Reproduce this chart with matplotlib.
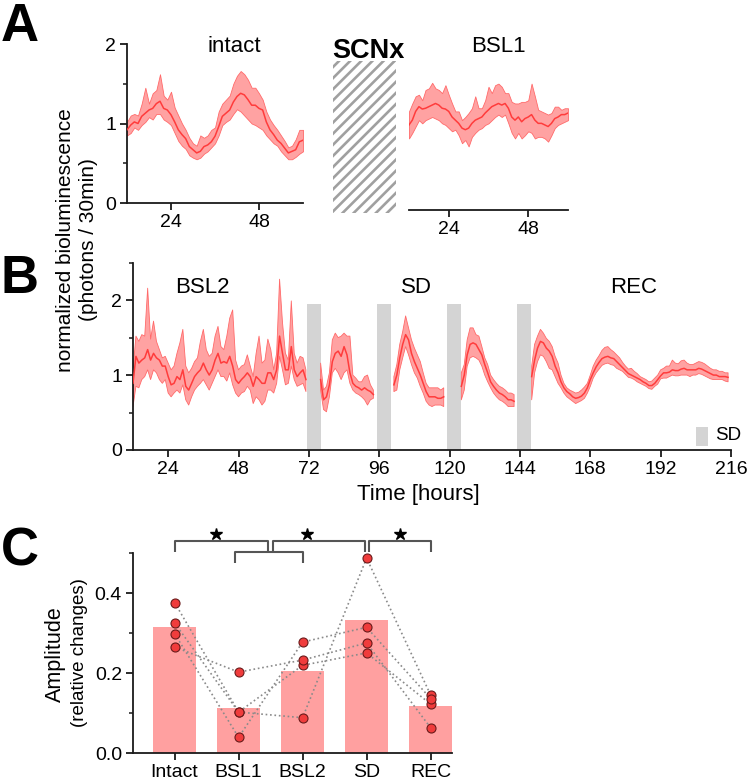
import numpy as np
import matplotlib
matplotlib.use('Agg')
import matplotlib.pyplot as plt
from matplotlib.patches import Rectangle
from matplotlib.ticker import FixedLocator

plt.rcParams['font.family'] = ['Liberation Sans', 'DejaVu Sans']
plt.rcParams['hatch.linewidth'] = 1.9

W, H = 748, 782
nan = np.nan

# ---- panel A : hourly mean / band, 12-60 h ----
hours_A = np.arange(12, 61)
intact_mean = [0.92, 0.98, 1.02, 1.00, 1.09, 1.13, 1.17, 1.19, 1.25, 1.28,
               1.19, 1.17, 1.11, 1.02, 0.92, 0.86, 0.81, 0.71, 0.67, 0.63,
               0.65, 0.71, 0.73, 0.77, 0.84, 0.96, 1.09, 1.13, 1.17, 1.27,
               1.34, 1.38, 1.36, 1.30, 1.23, 1.23, 1.19, 1.17, 1.02, 0.92,
               0.86, 0.79, 0.75, 0.69, 0.63, 0.65, 0.67, 0.77, 0.79]
intact_hi = [1.02, 1.10, 1.12, 1.10, 1.25, 1.45, 1.25, 1.38, 1.42, 1.62,
             1.35, 1.30, 1.40, 1.20, 1.10, 1.00, 0.92, 0.82, 0.75, 0.72,
             0.85, 0.82, 0.85, 0.92, 0.95, 1.15, 1.25, 1.30, 1.35, 1.50,
             1.60, 1.66, 1.62, 1.55, 1.45, 1.45, 1.38, 1.30, 1.15, 1.05,
             0.98, 0.92, 0.85, 0.78, 0.70, 0.72, 0.80, 0.92, 0.92]
intact_lo = [0.85, 0.88, 0.95, 0.92, 0.98, 1.02, 1.08, 1.05, 1.12, 1.12,
             1.05, 1.02, 0.98, 0.88, 0.78, 0.72, 0.68, 0.60, 0.57, 0.55,
             0.57, 0.62, 0.65, 0.70, 0.75, 0.85, 0.98, 1.02, 1.05, 1.12,
             1.18, 1.15, 1.10, 1.05, 1.00, 0.98, 0.95, 0.92, 0.85, 0.80,
             0.75, 0.72, 0.65, 0.60, 0.55, 0.55, 0.58, 0.62, 0.65]

bsl1_mean = [1.07, 1.13, 1.24, 1.30, 1.27, 1.28, 1.30, 1.32, 1.34, 1.32,
             1.28, 1.27, 1.24, 1.17, 1.13, 1.09, 1.03, 1.01, 1.03, 1.09,
             1.13, 1.15, 1.17, 1.22, 1.26, 1.30, 1.32, 1.34, 1.32, 1.34,
             1.28, 1.17, 1.13, 1.17, 1.11, 1.15, 1.17, 1.20, 1.13, 1.09,
             1.09, 1.07, 1.05, 1.09, 1.15, 1.17, 1.20, 1.20, 1.22]
bsl1_hi = [1.24, 1.34, 1.43, 1.45, 1.38, 1.51, 1.53, 1.60, 1.53, 1.51,
           1.47, 1.57, 1.45, 1.34, 1.24, 1.24, 1.13, 1.17, 1.22, 1.28,
           1.43, 1.28, 1.28, 1.38, 1.55, 1.47, 1.57, 1.59, 1.55, 1.47,
           1.47, 1.36, 1.34, 1.34, 1.36, 1.36, 1.38, 1.59, 1.43, 1.26,
           1.24, 1.22, 1.20, 1.22, 1.30, 1.30, 1.26, 1.28, 1.28]
bsl1_lo = [0.90, 0.97, 1.05, 1.13, 1.09, 1.13, 1.15, 1.17, 1.15, 1.13,
           1.09, 1.07, 1.03, 0.99, 1.01, 0.94, 0.84, 0.88, 0.80, 0.92,
           0.97, 1.01, 1.03, 1.07, 1.09, 1.13, 1.17, 1.20, 1.17, 1.20,
           1.09, 0.97, 0.90, 0.97, 0.90, 0.94, 0.99, 0.97, 0.90, 0.92,
           0.92, 0.90, 0.86, 0.94, 1.03, 1.07, 1.09, 1.11, 1.13]

# ---- panel B : hourly, 12-215 h, nan = no recording during SD ----
hours_B = np.arange(12, 216)
trace_mean = [
    0.89, 1.25, 1.16, 1.20, 1.23, 1.34, 1.20, 1.29, 1.23, 1.20,
    1.12, 1.12, 0.98, 0.87, 0.89, 0.98, 0.94, 1.07, 0.85, 0.80,
    0.89, 0.98, 1.03, 1.07, 1.16, 1.07, 1.00, 1.07, 1.20, 1.29,
    1.16, 1.18, 1.16, 1.25, 1.12, 0.94, 0.89, 0.94, 0.98, 1.03,
    0.98, 0.85, 0.98, 0.94, 0.89, 0.89, 1.03, 1.03, 0.94, 1.07,
    1.52, 1.29, 1.07, 1.07, 1.38, 1.07, 0.98, 1.03, 1.07, 0.94,
    nan, nan, nan, nan,
    0.94, 0.67, 0.71, 0.87, 1.18, 1.29, 1.32, 1.25, 1.38, 1.27,
    1.03, 0.89, 0.85, 0.83, 0.80, 0.83, 0.80, 0.78, 0.74,
    nan, nan, nan, nan, nan, nan,
    0.87, 1.00, 1.23, 1.41, 1.54, 1.47, 1.29, 1.18, 1.09, 1.00,
    0.89, 0.78, 0.71, 0.71, 0.71, 0.69, 0.69, 0.71,
    nan, nan, nan, nan, nan,
    0.85, 1.00, 1.27, 1.41, 1.43, 1.41, 1.34, 1.27, 1.14, 1.03,
    0.91, 0.85, 0.80, 0.76, 0.74, 0.71, 0.67, 0.67, 0.65,
    nan, nan, nan, nan, nan,
    0.98, 1.20, 1.36, 1.45, 1.43, 1.36, 1.32, 1.25, 1.12, 1.03,
    0.91, 0.83, 0.78, 0.75, 0.71, 0.69, 0.70, 0.72, 0.76, 0.83,
    0.94, 1.03, 1.11, 1.17, 1.22, 1.24, 1.25, 1.23, 1.22, 1.18,
    1.14, 1.10, 1.06, 1.02, 1.00, 0.98, 0.96, 0.94, 0.91, 0.89,
    0.86, 0.86, 0.89, 0.94, 0.99, 1.03, 1.03, 1.04, 1.07, 1.06,
    1.06, 1.08, 1.09, 1.07, 1.07, 1.07, 1.07, 1.09, 1.08, 1.06,
    1.04, 1.02, 1.00, 1.00, 0.98, 0.98, 0.98, 0.97]
trace_hi = [
    1.07, 1.52, 1.45, 1.54, 1.52, 2.16, 1.48, 1.72, 1.45, 1.34,
    1.23, 1.25, 1.16, 1.07, 1.12, 1.29, 1.43, 1.61, 1.12, 1.03,
    1.09, 1.18, 1.23, 1.45, 1.61, 1.34, 1.25, 1.29, 1.52, 1.65,
    1.38, 1.34, 1.52, 1.76, 1.87, 1.20, 1.07, 1.12, 1.14, 1.27,
    1.12, 0.98, 1.29, 1.52, 1.16, 1.20, 1.48, 1.34, 1.07, 1.29,
    2.28, 1.70, 1.29, 1.20, 1.99, 1.29, 1.16, 1.25, 1.23, 1.07,
    nan, nan, nan, nan,
    1.16, 0.80, 0.85, 1.03, 1.47, 1.56, 1.50, 1.52, 1.56, 1.52,
    1.52, 1.00, 0.96, 0.91, 0.91, 0.98, 1.00, 0.87, 0.80,
    nan, nan, nan, nan, nan, nan,
    0.98, 1.14, 1.41, 1.58, 1.79, 1.63, 1.47, 1.36, 1.27, 1.18,
    1.03, 0.89, 0.83, 0.83, 0.83, 0.83, 0.80, 0.83,
    nan, nan, nan, nan, nan,
    1.03, 1.14, 1.47, 1.63, 1.63, 1.54, 1.52, 1.38, 1.23, 1.14,
    1.00, 0.94, 0.89, 0.85, 0.83, 0.80, 0.76, 0.76, 0.74,
    nan, nan, nan, nan, nan,
    1.12, 1.41, 1.52, 1.61, 1.56, 1.49, 1.45, 1.38, 1.25, 1.16,
    1.00, 0.89, 0.83, 0.80, 0.78, 0.76, 0.77, 0.80, 0.84, 0.89,
    1.00, 1.12, 1.20, 1.26, 1.33, 1.37, 1.38, 1.34, 1.31, 1.27,
    1.23, 1.17, 1.12, 1.08, 1.09, 1.05, 1.02, 0.98, 0.96, 0.94,
    0.91, 0.92, 0.96, 1.00, 1.07, 1.09, 1.12, 1.12, 1.20, 1.16,
    1.15, 1.19, 1.20, 1.16, 1.14, 1.14, 1.16, 1.18, 1.17, 1.15,
    1.12, 1.09, 1.07, 1.07, 1.05, 1.05, 1.03, 1.03]
trace_lo = [
    0.58, 0.85, 0.83, 0.94, 0.98, 1.07, 0.94, 1.07, 1.03, 0.94,
    0.89, 0.94, 0.76, 0.71, 0.76, 0.80, 0.76, 0.87, 0.67, 0.60,
    0.71, 0.80, 0.85, 0.89, 0.94, 0.87, 0.80, 0.89, 0.98, 1.07,
    0.98, 0.98, 0.92, 1.03, 0.87, 0.76, 0.71, 0.76, 0.78, 0.85,
    0.80, 0.62, 0.71, 0.67, 0.60, 0.65, 0.80, 0.80, 0.76, 0.89,
    1.25, 1.07, 0.87, 0.89, 1.12, 0.94, 0.85, 0.87, 0.89, 0.78,
    nan, nan, nan, nan,
    0.80, 0.54, 0.51, 0.71, 1.03, 1.09, 1.03, 0.94, 1.03, 1.07,
    0.89, 0.80, 0.76, 0.74, 0.71, 0.67, 0.60, 0.67, 0.69,
    nan, nan, nan, nan, nan, nan,
    0.78, 0.80, 1.07, 1.23, 1.38, 1.27, 1.14, 1.03, 0.96, 0.85,
    0.76, 0.65, 0.60, 0.58, 0.60, 0.60, 0.60, 0.58,
    nan, nan, nan, nan, nan,
    0.67, 0.80, 1.12, 1.23, 1.25, 1.23, 1.20, 1.12, 1.00, 0.91,
    0.83, 0.76, 0.71, 0.67, 0.65, 0.62, 0.58, 0.58, 0.58,
    nan, nan, nan, nan, nan,
    0.67, 1.03, 1.18, 1.27, 1.25, 1.18, 1.09, 1.07, 0.98, 0.89,
    0.83, 0.76, 0.71, 0.68, 0.65, 0.62, 0.64, 0.66, 0.69, 0.76,
    0.85, 0.96, 1.03, 1.08, 1.13, 1.15, 1.16, 1.14, 1.13, 1.09,
    1.07, 1.05, 1.01, 0.97, 0.96, 0.94, 0.91, 0.89, 0.87, 0.85,
    0.82, 0.81, 0.85, 0.88, 0.95, 0.96, 0.96, 0.98, 1.00, 0.99,
    0.99, 1.00, 1.00, 1.00, 0.98, 1.00, 1.00, 1.02, 1.01, 0.99,
    0.97, 0.95, 0.94, 0.94, 0.94, 0.94, 0.92, 0.91]

sd_start = [71.4, 95.2, 119.1, 143.0]
sd_length = 4.8
sd_top = 1.95
phase_labels = ['BSL2', 'SD', 'REC']

# ---- panel C : amplitude per animal ----
groups = ['Intact', 'BSL1', 'BSL2', 'SD', 'REC']
amp_intact = [0.377, 0.326, 0.299, 0.266]
amp_bsl1 = [0.103, 0.103, 0.040, 0.203]
amp_bsl2 = [0.220, 0.089, 0.278, 0.233]
amp_sd = [0.251, 0.488, 0.315, 0.276]
amp_rec = [0.123, 0.146, 0.137, 0.064]

LINE = '#ff3c3c'
FILL = '#ffa2a2'
EDGE = '#ff6a6a'
INK = '#1a1a1a'


def box(x0, y0, x1, y1):
    # pixel box (top-left origin) -> figure fraction rect
    return [x0 / W, 1 - y1 / H, (x1 - x0) / W, (y1 - y0) / H]


def fx(x):
    return x / W


def fy(y):
    return 1 - y / H


def style(ax):
    for s in ['top', 'right']:
        ax.spines[s].set_visible(False)
    for s in ['left', 'bottom']:
        ax.spines[s].set_linewidth(1.3)
        ax.spines[s].set_color(INK)
    ax.tick_params(which='major', direction='out', length=5, width=1.3,
                   labelsize=14, color=INK, labelcolor='black', pad=3)
    ax.tick_params(which='minor', direction='out', length=3, width=1.1, color=INK)


def trace(ax, t, m, lo, hi):
    ax.fill_between(t, lo, hi, facecolor=FILL, edgecolor=EDGE, lw=0.6, zorder=2)
    ax.plot(t, m, color=LINE, lw=1.1, zorder=3)


fig = plt.figure(figsize=(W / 100, H / 100), dpi=100)

# ---------------- A ----------------
axA = fig.add_axes(box(127, 44, 303, 203))
trace(axA, hours_A, intact_mean, intact_lo, intact_hi)
axA.set_xlim(12, 60)
axA.set_ylim(0, 2)
axA.set_xticks([24, 48])
axA.set_yticks([0, 1, 2])
axA.yaxis.set_minor_locator(FixedLocator([0.5, 1.5]))
style(axA)

axA2 = fig.add_axes(box(409, 51, 568, 210))
trace(axA2, hours_A, bsl1_mean, bsl1_lo, bsl1_hi)
axA2.set_xlim(12, 60)
axA2.set_ylim(0, 2)
axA2.set_xticks([24, 48])
style(axA2)
axA2.spines['left'].set_visible(False)
axA2.set_yticks([])

fig.text(fx(234), fy(52), 'intact', fontsize=16, ha='center', va='baseline')
fig.text(fx(498), fy(52), 'BSL1', fontsize=16, ha='center', va='baseline')
fig.text(fx(368), fy(58), 'SCNx', fontsize=19.5, fontweight='bold',
         ha='center', va='baseline')
fig.add_artist(Rectangle((fx(333), fy(213)), (396 - 333) / W, (213 - 61) / H,
                         transform=fig.transFigure, facecolor='none',
                         edgecolor='#a0a0a0', hatch='///', lw=0))

# ---------------- B ----------------
axB = fig.add_axes(box(133, 262.7, 731, 450))
for s in sd_start:
    axB.axvspan(s, s + sd_length, ymin=0, ymax=sd_top / 2.5,
                color='#d4d4d4', lw=0, zorder=1)
trace(axB, hours_B, trace_mean, trace_lo, trace_hi)
axB.set_xlim(12, 216)
axB.set_ylim(0, 2.5)
axB.set_xticks(np.arange(24, 217, 24))
axB.set_yticks([0, 1, 2])
axB.yaxis.set_minor_locator(FixedLocator([0.5, 1.5, 2.5]))
style(axB)
fig.text(fx(418), fy(495), 'Time [hours]', fontsize=16, ha='center', va='center')

for lab, xc in zip(phase_labels, [202, 416, 634]):
    fig.text(fx(xc), fy(293), lab, fontsize=16, ha='center', va='baseline')

axB.add_patch(Rectangle(((696 - 133) / 598, (450 - 446) / 187.3),
                        12 / 598, 19 / 187.3, transform=axB.transAxes,
                        color='#d4d4d4', lw=0, clip_on=False))
axB.text((715 - 133) / 598, (450 - 436) / 187.3, 'SD', fontsize=13.5,
         transform=axB.transAxes, ha='left', va='center')

fig.text(fx(66), fy(240), 'normalized bioluminescence', fontsize=15,
         rotation=90, ha='center', va='center')
fig.text(fx(89), fy(240), '(photons / 30min)', fontsize=15,
         rotation=90, ha='center', va='center')

# ---------------- C ----------------
axC = fig.add_axes(box(133, 553.3, 451.7, 753.3))
xs = np.arange(len(groups))
amps = [amp_intact, amp_bsl1, amp_bsl2, amp_sd, amp_rec]
axC.bar(xs, [np.mean(a) for a in amps], width=0.67, color='#ffa0a0', zorder=1)
for k in range(len(amp_intact)):
    axC.plot(xs, [a[k] for a in amps], ls=':', color='#8a8a8a', lw=1.2, zorder=2)
for x, a in zip(xs, amps):
    axC.plot([x] * len(a), a, 'o', mfc='#f03c3c', mec='#6a1a1a', ms=6.5,
             mew=0.8, zorder=3, clip_on=False)
axC.set_xlim(-0.65, 4.33)
axC.set_ylim(0, 0.5)
axC.set_xticks(xs)
axC.set_xticklabels(groups)
axC.set_yticks([0, 0.2, 0.4])
axC.set_yticklabels(['0.0', '0.2', '0.4'])
axC.yaxis.set_minor_locator(FixedLocator([0.1, 0.3, 0.5]))
style(axC)

# significance brackets
bk = dict(color='#555555', lw=1.5, clip_on=False, solid_capstyle='butt')
axC.plot([0, 0, 1.46, 1.46], [0.5025, 0.532, 0.532, 0.5025], **bk)
axC.plot([1.54, 1.54, 2.98, 2.98], [0.5025, 0.532, 0.532, 0.5025], **bk)
axC.plot([3.04, 3.04, 4.0, 4.0], [0.5025, 0.532, 0.532, 0.5025], **bk)
axC.plot([0.95, 0.95, 2.0, 2.0], [0.475, 0.5025, 0.5025, 0.475], **bk)
axC.plot([0.64, 2.07, 3.52], [0.548] * 3, '*', color='black', ms=9,
         clip_on=False)

fig.text(fx(55), fy(654), 'Amplitude', fontsize=15.5, rotation=90,
         ha='center', va='center')
fig.text(fx(80), fy(653), '(relative changes)', fontsize=13.5, rotation=90,
         ha='center', va='center')

# panel letters
for lab, yb in zip(['A', 'B', 'C'], [41, 293, 565]):
    fig.text(fx(1), fy(yb), lab, fontsize=38, fontweight='bold',
             ha='left', va='baseline')

fig.savefig('out.png', dpi=100)
